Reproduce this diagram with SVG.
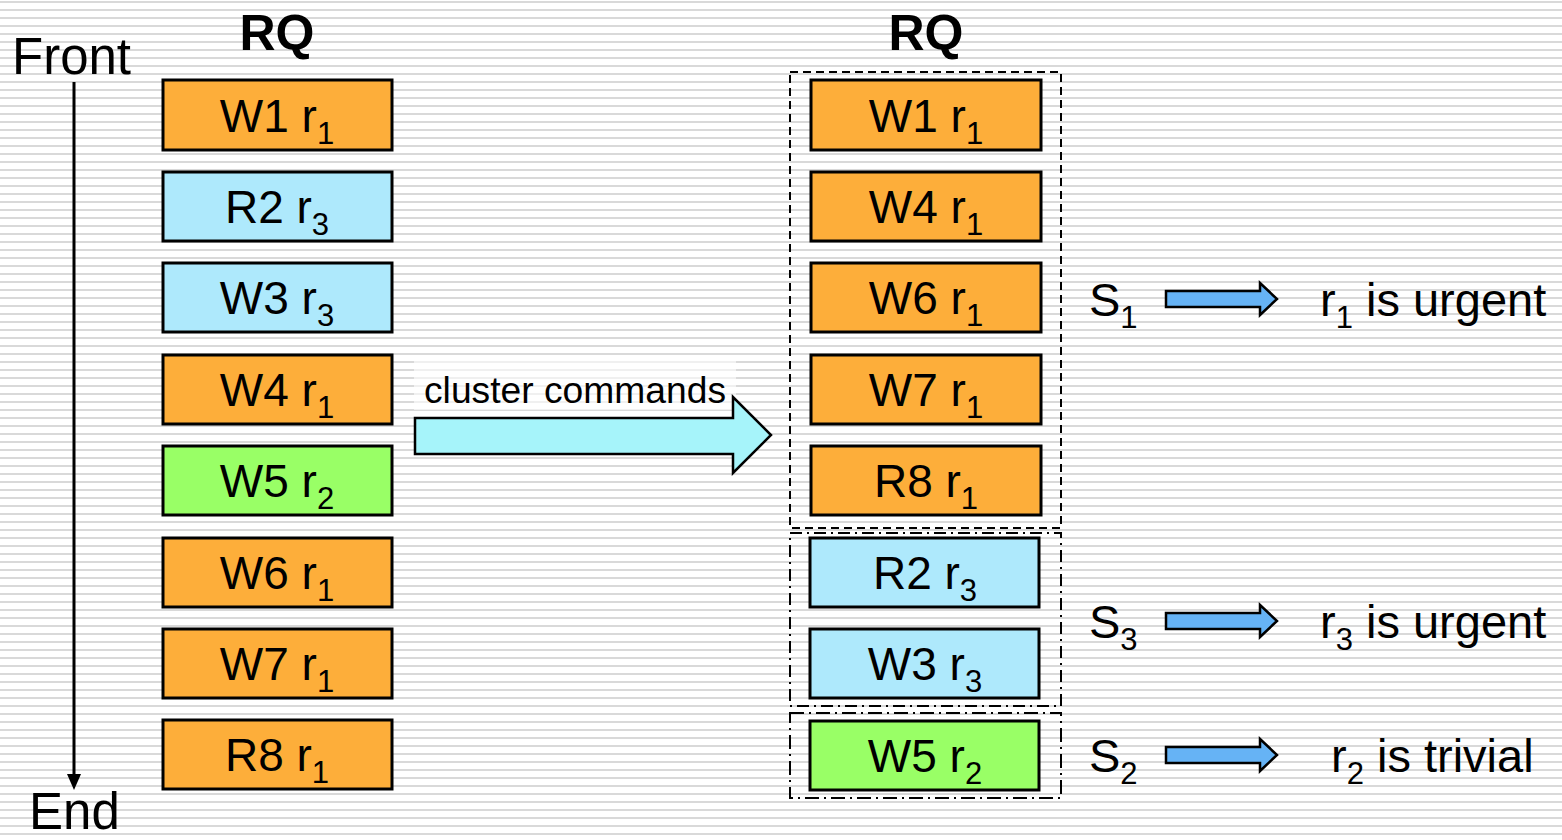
<svg xmlns="http://www.w3.org/2000/svg" width="1562" height="840" viewBox="0 0 1562 840">
  <defs>
    <pattern id="stripes" x="0" y="0" width="16" height="8" patternUnits="userSpaceOnUse">
      <rect x="0" y="0" width="16" height="8" fill="#ffffff"/>
      <rect x="0" y="1" width="16" height="2" fill="#d9d9d9"/>
    </pattern>
    <path id="smallArrow" d="M0,-8 H94 V-16 L111,0 L94,16 V8 H0 Z"/>
  </defs>
  <style>
    text { font-family: "Liberation Sans", Arial, sans-serif; fill: #000; }
    .box { stroke: #000; stroke-width: 3; }
    .w { fill: #FDAE3A; }
    .b { fill: #AEE9FC; }
    .g { fill: #99FF66; }
    .lbl { font-size: 46px; text-anchor: middle; }
    .sub { font-size: 31px; }
    .big { font-size: 47px; }
    .head { font-size: 50px; font-weight: bold; }
    .side { font-size: 51px; }
    .sarrow { fill: #66B3F5; stroke: #000; stroke-width: 2.5; }
  </style>

  <!-- striped backdrop -->
  <rect x="0" y="0" width="1562" height="840" fill="url(#stripes)"/>

  <!-- column headers and queue direction -->
  <text class="head" x="277" y="50" text-anchor="middle">RQ</text>
  <text class="head" x="926" y="50" text-anchor="middle">RQ</text>
  <text class="side" x="12" y="74">Front</text>
  <text class="side" x="29" y="829" font-size="49">End</text>

  <g id="connectors">
    <line x1="74" y1="82" x2="74" y2="776" stroke="#000" stroke-width="3"/>
    <path d="M67,774 H81 L74,790 Z" fill="#000"/>
    <rect x="414" y="356" width="322" height="54" fill="#ffffff" fill-opacity="0.6"/>
    <path d="M415,418 H733 V397 L771,435 L733,473 V454 H415 Z" fill="#A6F4FA" stroke="#000" stroke-width="2.5"/>
    <text x="575" y="403" font-size="37" text-anchor="middle" textLength="302" lengthAdjust="spacingAndGlyphs">cluster commands</text>
    <use href="#smallArrow" x="1166" y="299" class="sarrow"/>
    <use href="#smallArrow" x="1166" y="621" class="sarrow"/>
    <use href="#smallArrow" x="1166" y="755" class="sarrow"/>
  </g>

  <!-- left queue -->
  <g id="L1"><rect class="box w" x="163" y="80" width="229" height="70"/><text class="lbl" x="277" y="132">W1 r<tspan class="sub" dy="12">1</tspan></text></g>
  <g id="L2"><rect class="box b" x="163" y="172" width="229" height="69"/><text class="lbl" x="277" y="223">R2 r<tspan class="sub" dy="12">3</tspan></text></g>
  <g id="L3"><rect class="box b" x="163" y="263" width="229" height="69"/><text class="lbl" x="277" y="314">W3 r<tspan class="sub" dy="12">3</tspan></text></g>
  <g id="L4"><rect class="box w" x="163" y="355" width="229" height="69"/><text class="lbl" x="277" y="406">W4 r<tspan class="sub" dy="12">1</tspan></text></g>
  <g id="L5"><rect class="box g" x="163" y="446" width="229" height="69"/><text class="lbl" x="277" y="497">W5 r<tspan class="sub" dy="12">2</tspan></text></g>
  <g id="L6"><rect class="box w" x="163" y="538" width="229" height="69"/><text class="lbl" x="277" y="589">W6 r<tspan class="sub" dy="12">1</tspan></text></g>
  <g id="L7"><rect class="box w" x="163" y="629" width="229" height="69"/><text class="lbl" x="277" y="680">W7 r<tspan class="sub" dy="12">1</tspan></text></g>
  <g id="L8"><rect class="box w" x="163" y="720" width="229" height="69"/><text class="lbl" x="277" y="771">R8 r<tspan class="sub" dy="12">1</tspan></text></g>

  <!-- cluster outlines -->
  <g id="clusters" fill="none" stroke="#000" stroke-width="2">
    <rect x="790" y="72" width="271" height="456" stroke-dasharray="8,5"/>
    <rect x="790" y="533" width="271" height="173" stroke-dasharray="12,5,2,5"/>
    <rect x="790" y="713" width="271" height="85" stroke-dasharray="14,5,2,5"/>
  </g>

  <!-- right queue -->
  <g id="R1"><rect class="box w" x="811" y="80" width="230" height="70"/><text class="lbl" x="926" y="132">W1 r<tspan class="sub" dy="12">1</tspan></text></g>
  <g id="R4"><rect class="box w" x="811" y="172" width="230" height="69"/><text class="lbl" x="926" y="223">W4 r<tspan class="sub" dy="12">1</tspan></text></g>
  <g id="R6"><rect class="box w" x="811" y="263" width="230" height="69"/><text class="lbl" x="926" y="314">W6 r<tspan class="sub" dy="12">1</tspan></text></g>
  <g id="R7"><rect class="box w" x="811" y="355" width="230" height="69"/><text class="lbl" x="926" y="406">W7 r<tspan class="sub" dy="12">1</tspan></text></g>
  <g id="R8"><rect class="box w" x="811" y="446" width="230" height="69"/><text class="lbl" x="926" y="497">R8 r<tspan class="sub" dy="12">1</tspan></text></g>
  <g id="R2"><rect class="box b" x="810" y="538" width="229" height="69"/><text class="lbl" x="925" y="589">R2 r<tspan class="sub" dy="12">3</tspan></text></g>
  <g id="R3"><rect class="box b" x="810" y="629" width="229" height="69"/><text class="lbl" x="925" y="680">W3 r<tspan class="sub" dy="12">3</tspan></text></g>
  <g id="R5"><rect class="box g" x="810" y="721" width="229" height="69"/><text class="lbl" x="925" y="772">W5 r<tspan class="sub" dy="12">2</tspan></text></g>

  <!-- set labels and urgency -->
  <g id="S1"><text class="big" x="1089" y="316">S<tspan class="sub" dy="12">1</tspan></text><text class="big" x="1320" y="316">r<tspan class="sub" dy="12">1</tspan><tspan dy="-12"> is urgent</tspan></text></g>
  <g id="S3"><text class="big" x="1089" y="638">S<tspan class="sub" dy="12">3</tspan></text><text class="big" x="1320" y="638">r<tspan class="sub" dy="12">3</tspan><tspan dy="-12"> is urgent</tspan></text></g>
  <g id="S2"><text class="big" x="1089" y="772">S<tspan class="sub" dy="12">2</tspan></text><text class="big" x="1331" y="772">r<tspan class="sub" dy="12">2</tspan><tspan dy="-12"> is trivial</tspan></text></g>
</svg>
